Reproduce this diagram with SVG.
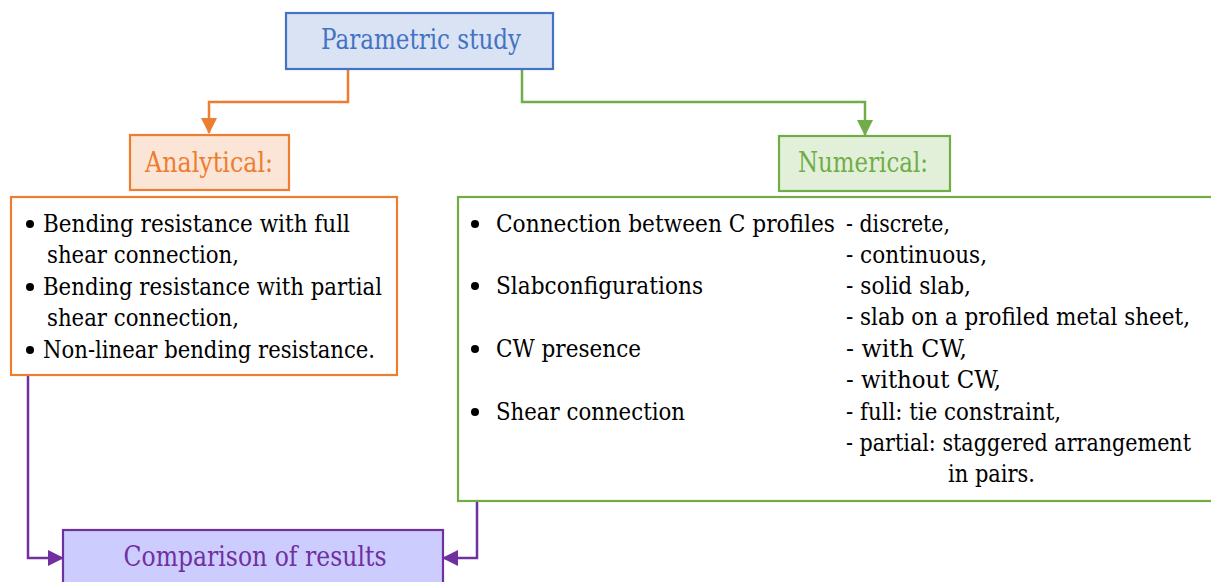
<svg xmlns="http://www.w3.org/2000/svg" width="1211" height="582" viewBox="0 0 1211 582" font-family="'DejaVu Serif', serif">
<style>
.title{font-size:27px;text-anchor:middle;}
.body{font-size:25px;fill:#000;}
.conn{fill:none;stroke-width:2.5;}
.box{stroke-width:2.2;}
</style>
<defs>
<marker id="aO" markerUnits="userSpaceOnUse" markerWidth="16" markerHeight="16" viewBox="0 0 16 16" refX="15" refY="8" orient="auto"><path d="M0,0 L16,8 L0,16 Z" fill="#ed7d31"/></marker>
<marker id="aG" markerUnits="userSpaceOnUse" markerWidth="16" markerHeight="16" viewBox="0 0 16 16" refX="15" refY="8" orient="auto"><path d="M0,0 L16,8 L0,16 Z" fill="#70ad47"/></marker>
<marker id="aP" markerUnits="userSpaceOnUse" markerWidth="16" markerHeight="16" viewBox="0 0 16 16" refX="15" refY="8" orient="auto"><path d="M0,0 L16,8 L0,16 Z" fill="#7030a0"/></marker>
</defs>
<g id="connectors">
<path class="conn" stroke="#ed7d31" d="M348,69 V102 H209 V133" marker-end="url(#aO)"/>
<path class="conn" stroke="#70ad47" d="M522,69 V102 H865 V135" marker-end="url(#aG)"/>
<path class="conn" stroke="#7030a0" d="M28,375 V558 H63" marker-end="url(#aP)"/>
<path class="conn" stroke="#7030a0" d="M477,501 V558 H443" marker-end="url(#aP)"/>
</g>
<g id="parametric">
<rect class="box" x="286" y="13" width="267" height="56" fill="#dae3f3" stroke="#4472c4"/>
<text class="title" x="421" y="49" fill="#4472c4" textLength="200" lengthAdjust="spacingAndGlyphs">Parametric study</text>
</g>
<g id="analytical">
<rect class="box" x="130" y="135" width="159" height="55" fill="#fbe5d6" stroke="#ed7d31"/>
<text class="title" x="209" y="172" fill="#ed7d31" textLength="128" lengthAdjust="spacingAndGlyphs">Analytical:</text>
</g>
<g id="numerical">
<rect class="box" x="779" y="136" width="171" height="55" fill="#e2f0d9" stroke="#70ad47"/>
<text class="title" x="863" y="172" fill="#70ad47" textLength="130" lengthAdjust="spacingAndGlyphs">Numerical:</text>
</g>
<g id="analytical-list">
<rect class="box" x="11" y="197" width="386" height="178" fill="#fff" stroke="#ed7d31"/>
<circle cx="30" cy="224" r="4"/>
<circle cx="30" cy="287" r="4"/>
<circle cx="30" cy="350" r="4"/>
<text class="body" x="43" y="232" textLength="307" lengthAdjust="spacingAndGlyphs">Bending resistance with full</text>
<text class="body" x="47" y="263" textLength="192" lengthAdjust="spacingAndGlyphs">shear connection,</text>
<text class="body" x="43" y="295" textLength="339" lengthAdjust="spacingAndGlyphs">Bending resistance with partial</text>
<text class="body" x="47" y="326" textLength="192" lengthAdjust="spacingAndGlyphs">shear connection,</text>
<text class="body" x="43" y="358" textLength="332" lengthAdjust="spacingAndGlyphs">Non-linear bending resistance.</text>
</g>
<g id="numerical-list">
<rect class="box" x="458" y="197" width="760" height="304" fill="#fff" stroke="#70ad47"/>
<circle cx="475" cy="224" r="4"/>
<circle cx="475" cy="286" r="4"/>
<circle cx="475" cy="349" r="4"/>
<circle cx="475" cy="412" r="4"/>
<text class="body" x="496" y="232" textLength="339" lengthAdjust="spacingAndGlyphs">Connection between C profiles</text>
<text class="body" x="496" y="294" textLength="207" lengthAdjust="spacingAndGlyphs">Slabconfigurations</text>
<text class="body" x="496" y="357" textLength="145" lengthAdjust="spacingAndGlyphs">CW presence</text>
<text class="body" x="496" y="420" textLength="189" lengthAdjust="spacingAndGlyphs">Shear connection</text>
<text class="body" x="846" y="232" textLength="104" lengthAdjust="spacingAndGlyphs">- discrete,</text>
<text class="body" x="846" y="263" textLength="141" lengthAdjust="spacingAndGlyphs">- continuous,</text>
<text class="body" x="846" y="294" textLength="125" lengthAdjust="spacingAndGlyphs">- solid slab,</text>
<text class="body" x="846" y="325" textLength="344" lengthAdjust="spacingAndGlyphs">- slab on a profiled metal sheet,</text>
<text class="body" x="846" y="357" textLength="121" lengthAdjust="spacingAndGlyphs">- with CW,</text>
<text class="body" x="846" y="388" textLength="155" lengthAdjust="spacingAndGlyphs">- without CW,</text>
<text class="body" x="846" y="420" textLength="215" lengthAdjust="spacingAndGlyphs">- full: tie constraint,</text>
<text class="body" x="846" y="451" textLength="345" lengthAdjust="spacingAndGlyphs">- partial: staggered arrangement</text>
<text class="body" x="948" y="482" textLength="87" lengthAdjust="spacingAndGlyphs">in pairs.</text>
</g>
<g id="comparison">
<rect class="box" x="63" y="530" width="380" height="60" fill="#ccccff" stroke="#7030a0"/>
<text class="title" x="255" y="566" fill="#7030a0" textLength="263" lengthAdjust="spacingAndGlyphs">Comparison of results</text>
</g>
</svg>
